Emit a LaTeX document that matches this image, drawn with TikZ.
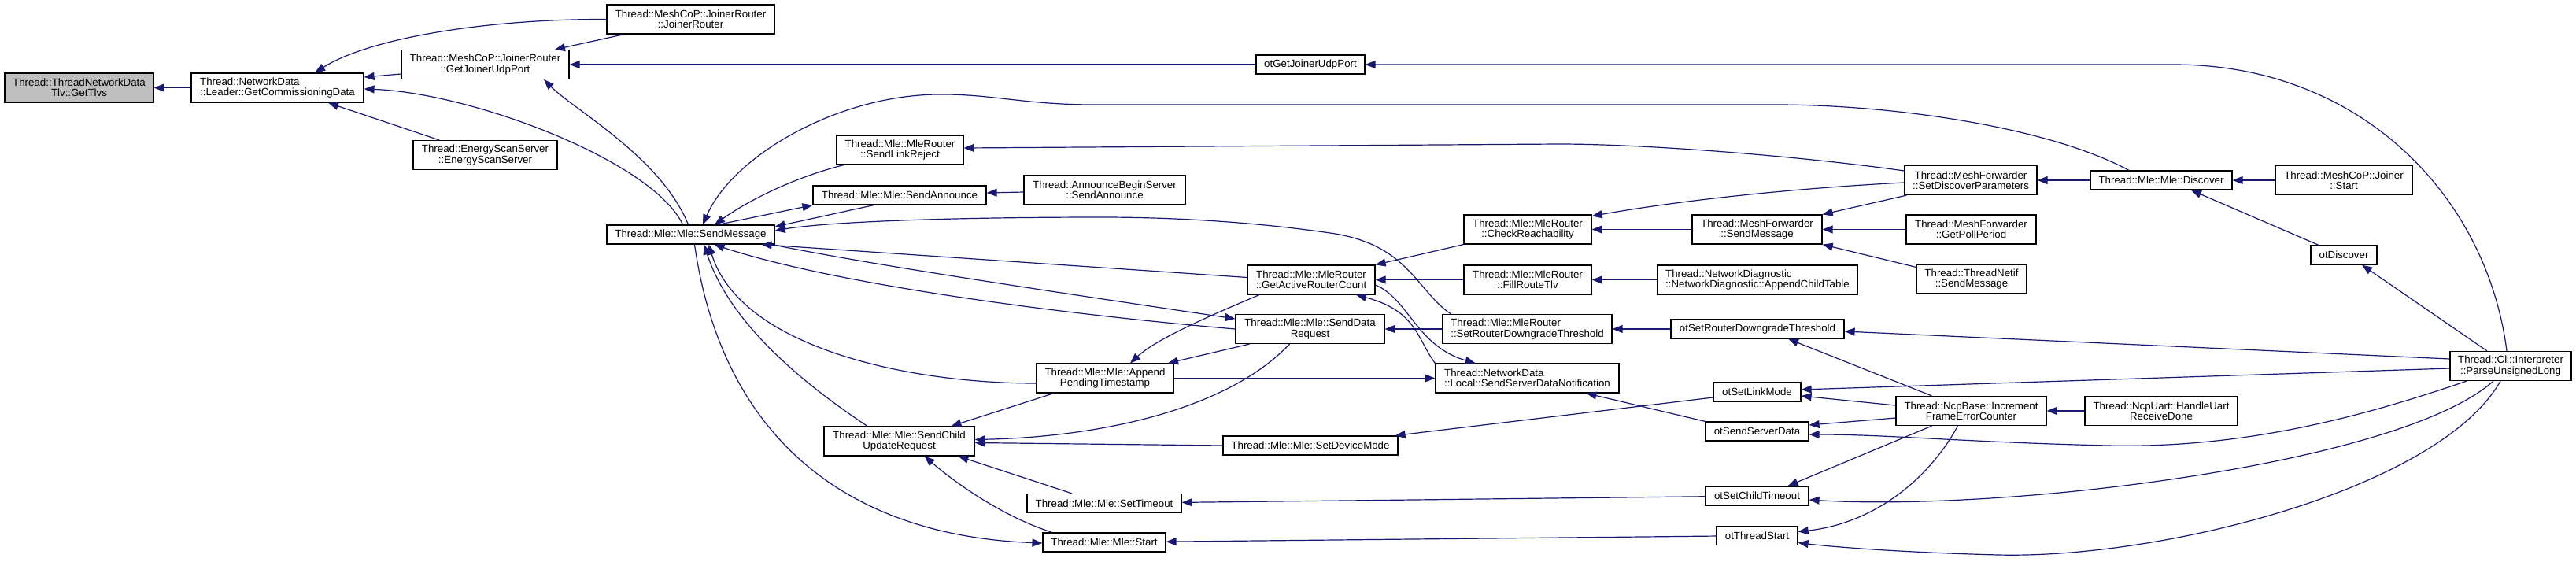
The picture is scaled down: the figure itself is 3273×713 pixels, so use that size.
\documentclass[tikz,border=0pt]{standalone}
\usepackage{fontspec}
\setmainfont{Liberation Sans}
\usetikzlibrary{arrows.meta}
\definecolor{edgec}{HTML}{191970}
\definecolor{graynode}{HTML}{BFBFBF}
\begin{document}
\begin{tikzpicture}[x=1pt,y=-1pt,
  nbox/.style={draw=black, line width=1.2pt, fill=white, inner sep=0pt, align=center, font=\fontsize{13.3}{13.3}\selectfont},
  lbox/.style={nbox, align=left},
  conn/.style={draw=edgec, line width=1.2pt, -{Triangle[length=13pt,width=10pt]}}]
\fill[white] (0,0) rectangle (3273,713);
\useasboundingbox (0,0) rectangle (3273,713);
% nodes
\node[nbox, fill=graynode, minimum width=189pt, minimum height=37pt] (GetTlvs) at (100.5,111.5) {Thread::ThreadNetworkData\\Tlv::GetTlvs};
\node[lbox, minimum width=219pt, minimum height=37pt] (GCD) at (352.5,111.5) {Thread::NetworkData\\::Leader::GetCommissioningData};
\node[nbox, minimum width=213pt, minimum height=37pt] (JR) at (877.5,24.5) {Thread::MeshCoP::JoinerRouter\\::JoinerRouter};
\node[nbox, minimum width=213pt, minimum height=37pt] (GJUP) at (616.5,82) {Thread::MeshCoP::JoinerRouter\\::GetJoinerUdpPort};
\node[nbox, minimum width=183pt, minimum height=37pt] (ESS) at (616.5,197) {Thread::EnergyScanServer\\::EnergyScanServer};
\node[nbox, minimum width=213pt, minimum height=24pt] (SM) at (877.5,298) {Thread::Mle::Mle::SendMessage};
\node[nbox, minimum width=138pt, minimum height=24pt] (otGJUP) at (1665,82) {otGetJoinerUdpPort};
\node[nbox, minimum width=161pt, minimum height=37pt] (SLR) at (1143.5,190.5) {Thread::Mle::MleRouter\\::SendLinkReject};
\node[nbox, minimum width=220pt, minimum height=24pt] (SA) at (1143,248) {Thread::Mle::Mle::SendAnnounce};
\node[nbox, minimum width=205pt, minimum height=37pt] (ABS) at (1403.5,241) {Thread::AnnounceBeginServer\\::SendAnnounce};
\node[nbox, minimum width=162pt, minimum height=37pt] (CR) at (1941,291.5) {Thread::Mle::MleRouter\\::CheckReachability};
\node[nbox, minimum width=162pt, minimum height=37pt] (GARC) at (1666,355.5) {Thread::Mle::MleRouter\\::GetActiveRouterCount};
\node[nbox, minimum width=162pt, minimum height=37pt] (FRT) at (1941,355.5) {Thread::Mle::MleRouter\\::FillRouteTlv};
\node[lbox, minimum width=254pt, minimum height=37pt] (ACT) at (2233,355.5) {Thread::NetworkDiagnostic\\::NetworkDiagnostic::AppendChildTable};
\node[nbox, minimum width=189pt, minimum height=37pt] (SDR) at (1664.5,418) {Thread::Mle::Mle::SendData\\Request};
\node[lbox, minimum width=215pt, minimum height=37pt] (RSRDT) at (1940.5,418) {Thread::Mle::MleRouter\\::SetRouterDowngradeThreshold};
\node[nbox, minimum width=220pt, minimum height=24pt] (otSRDT) at (2233,418) {otSetRouterDowngradeThreshold};
\node[nbox, minimum width=174pt, minimum height=37pt] (APT) at (1404,480.5) {Thread::Mle::Mle::Append\\PendingTimestamp};
\node[lbox, minimum width=233pt, minimum height=37pt] (SSDN) at (1940.5,480.5) {Thread::NetworkData\\::Local::SendServerDataNotification};
\node[nbox, minimum width=191pt, minimum height=37pt] (SCUR) at (1142.5,560.5) {Thread::Mle::Mle::SendChild\\UpdateRequest};
\node[nbox, minimum width=222pt, minimum height=24pt] (SDM) at (1665,566) {Thread::Mle::Mle::SetDeviceMode};
\node[nbox, minimum width=196pt, minimum height=24pt] (ST) at (1403,639.5) {Thread::Mle::Mle::SetTimeout};
\node[nbox, minimum width=156pt, minimum height=24pt] (Start) at (1403,689) {Thread::Mle::Mle::Start};
\node[nbox, minimum width=168pt, minimum height=37pt] (SDP) at (2504,229) {Thread::MeshForwarder\\::SetDiscoverParameters};
\node[nbox, minimum width=180pt, minimum height=24pt] (Disc) at (2746,229) {Thread::Mle::Mle::Discover};
\node[nbox, minimum width=174pt, minimum height=37pt] (JStart) at (2978,229) {Thread::MeshCoP::Joiner\\::Start};
\node[nbox, minimum width=165pt, minimum height=37pt] (MFSM) at (2232.5,291.5) {Thread::MeshForwarder\\::SendMessage};
\node[nbox, minimum width=165pt, minimum height=37pt] (GPP) at (2504.5,291.5) {Thread::MeshForwarder\\::GetPollPeriod};
\node[nbox, minimum width=140pt, minimum height=37pt] (TNSM) at (2505,354.5) {Thread::ThreadNetif\\::SendMessage};
\node[nbox, minimum width=84pt, minimum height=24pt] (otDisc) at (2978,324) {otDiscover};
\node[nbox, minimum width=154pt, minimum height=37pt] (PUL) at (3190,465) {Thread::Cli::Interpreter\\::ParseUnsignedLong};
\node[nbox, minimum width=111pt, minimum height=24pt] (otSLM) at (2232.5,498) {otSetLinkMode};
\node[nbox, minimum width=191pt, minimum height=37pt] (IFEC) at (2504.5,522) {Thread::NcpBase::Increment\\FrameErrorCounter};
\node[nbox, minimum width=194pt, minimum height=37pt] (HURD) at (2746,522) {Thread::NcpUart::HandleUart\\ReceiveDone};
\node[nbox, minimum width=131pt, minimum height=24pt] (otSSD) at (2232.5,548) {otSendServerData};
\node[nbox, minimum width=131pt, minimum height=24pt] (otSCT) at (2232.5,630) {otSetChildTimeout};
\node[nbox, minimum width=103pt, minimum height=24pt] (otTS) at (2232.5,680.5) {otThreadStart};
% edges
\draw[conn] (GCD) -- (GetTlvs);
\draw[conn] (JR.west) .. controls (620,24) and (470,48) .. ([xshift=47.5pt]GCD.north);
\draw[conn] ([yshift=-12pt]GJUP.west) -- ([yshift=13.5pt]GCD.east);
\draw[conn] ([xshift=-10pt]SM.north) .. controls (830,205) and (600,118) .. ([yshift=-1.5pt]GCD.east);
\draw[conn] ([xshift=-58.5pt]ESS.north) -- ([xshift=64.5pt]GCD.south);
\draw[conn] ([xshift=-84.5pt]JR.south) -- ([xshift=88.5pt]GJUP.north);
\draw[conn] (otGJUP) -- (GJUP);
\draw[conn] ([xshift=-3pt]SM.north) .. controls (840,200) and (730,140) .. ([xshift=74.5pt]GJUP.south);
\draw[conn] ([xshift=-5pt]PUL.north) .. controls (3160,250) and (3000,82) .. (2762,82) -- (otGJUP.east);
\draw[conn] ([xshift=-41pt]Disc.north) .. controls (2600,160) and (2400,133) .. (2257,133) -- (1390,133) .. controls (1300,133) and (1260,119) .. (1190,120) .. controls (1060,122) and (930,200) .. ([xshift=15.5pt]SM.north);
\draw[conn] ([xshift=-71.5pt]SLR.south) .. controls (1010,225) and (950,255) .. ([xshift=30.5pt]SM.north);
\draw[conn] ([yshift=12pt]SDP.west) .. controls (2300,200) and (2100,183) .. (1980,183) -- ([yshift=2.5pt]SLR.east);
\draw[conn] ([xshift=35pt]SM.north) -- (SA.south west);
\draw[conn] ([xshift=-33pt]SA.south) -- ([yshift=10pt]SM.east);
\draw[conn] ([yshift=-3pt]ABS.west) -- ([yshift=3pt]SA.east);
\draw[conn] ([xshift=-97pt]RSRDT.north) .. controls (1800,370) and (1790,310) .. (1690,296) .. controls (1600,283) and (1500,276) .. (1400,276) .. controls (1200,276) and (1050,282) .. ([yshift=5pt]SM.east);
\draw[conn] ([yshift=3pt]GARC.west) -- ([xshift=90pt]SM.south);
\draw[conn] ([xshift=103pt]SM.south) .. controls (1100,335) and (1300,365) .. ([yshift=13pt]SDR.west);
\draw[conn] (SDR.west) .. controls (1300,395) and (1040,355) .. ([xshift=30pt]SM.south);
\draw[conn] ([yshift=-6.5pt]APT.west) .. controls (1150,487) and (940,440) .. ([xshift=23pt]SM.south);
\draw[conn] ([xshift=-40.5pt]SCUR.north) .. controls (1040,500) and (930,420) .. ([xshift=17pt]SM.south);
\draw[conn] ([xshift=5pt]SM.south) .. controls (915,540) and (1060,680) .. ([yshift=-1pt]Start.west);
\draw[conn] ([xshift=-66pt]GARC.south) .. controls (1540,400) and (1470,430) .. ([xshift=32pt]APT.north);
\draw[conn] ([xshift=-77pt]SDR.south) -- ([xshift=80pt]APT.north);
\draw[conn] ([xshift=-26pt]SDR.south) .. controls (1560,520) and (1400,555) .. ([yshift=2pt]SCUR.east);
\draw[conn] (SDM.west) -- ([yshift=-2pt]SCUR.east);
\draw[conn] ([xshift=-41pt]ST.north) -- ([xshift=75pt]SCUR.south);
\draw[conn] ([xshift=-66pt]Start.north) .. controls (1270,655) and (1210,610) .. ([xshift=32pt]SCUR.south);
\draw[conn] ([xshift=-65pt]APT.south) -- ([xshift=66pt]SCUR.north);
\draw[conn] (APT) -- (SSDN);
\draw[conn] ([yshift=-6.5pt]GARC.east) .. controls (1790,380) and (1800,440) .. ([xshift=-66pt]SSDN.north);
\draw[conn] (SSDN.north west) .. controls (1800,430) and (1800,395) .. ([xshift=57pt]GARC.south);
\draw[conn] (CR.south west) -- (GARC.north east);
\draw[conn] (FRT) -- (GARC);
\draw[conn] (ACT) -- (FRT);
\draw[conn] (RSRDT) -- (SDR);
\draw[conn] (otSRDT) -- (RSRDT);
\draw[conn] (MFSM) -- (CR);
\draw[conn] ([yshift=-3pt]SDP.west) .. controls (2300,238) and (2150,252) .. ([yshift=17pt]CR.east);
\draw[conn] ([xshift=3pt]SDP.south west) -- (MFSM.north east);
\draw[conn] (GPP) -- (MFSM);
\draw[conn] ([yshift=-4pt]TNSM.north west) -- (MFSM.south east);
\draw[conn] (Disc) -- (SDP);
\draw[conn] (JStart) -- (Disc);
\draw[conn] ([xshift=-32pt]otDisc.north) -- ([xshift=38pt]Disc.south);
\draw[conn] ([xshift=-30pt]PUL.north) -- ([xshift=23pt]otDisc.south);
\draw[conn] ([yshift=9pt]PUL.west) -- ([yshift=-3pt]otSRDT.east);
\draw[conn] ([yshift=-3pt]PUL.west) -- ([yshift=3pt]otSLM.east);
\draw[conn] ([xshift=-50pt]IFEC.north) -- ([xshift=39pt]otSRDT.south);
\draw[conn] ([yshift=7pt]IFEC.west) -- ([yshift=-5pt]otSLM.east);
\draw[conn] ([yshift=-9pt]IFEC.west) -- ([yshift=8pt]otSSD.east);
\draw[conn] ([xshift=-56pt]PUL.south) .. controls (3000,530) and (2850,570) .. (2678,566) .. controls (2500,562) and (2400,552) .. ([yshift=-4pt]otSSD.east);
\draw[conn] ([xshift=-50pt]IFEC.south) -- ([xshift=39pt]otSCT.north);
\draw[conn] ([xshift=-22pt]PUL.south) .. controls (3050,590) and (2550,650) .. ([yshift=-5pt]otSCT.east);
\draw[conn] ([xshift=-17pt]IFEC.south) .. controls (2450,610) and (2380,665) .. ([yshift=5pt]otTS.east);
\draw[conn] ([xshift=-13pt]PUL.south) .. controls (3100,620) and (2750,710) .. (2539,705) .. controls (2420,702) and (2330,695) .. ([yshift=-9pt]otTS.east);
\draw[conn] (HURD) -- (IFEC);
\draw[conn] ([yshift=-7pt]otSLM.west) -- ([xshift=-4pt]SDM.north east);
\draw[conn] (otSSD.north west) -- ([xshift=75pt]SSDN.south);
\draw[conn] (otSCT) -- (ST);
\draw[conn] (otTS) -- (Start);
\end{tikzpicture}
\end{document}
